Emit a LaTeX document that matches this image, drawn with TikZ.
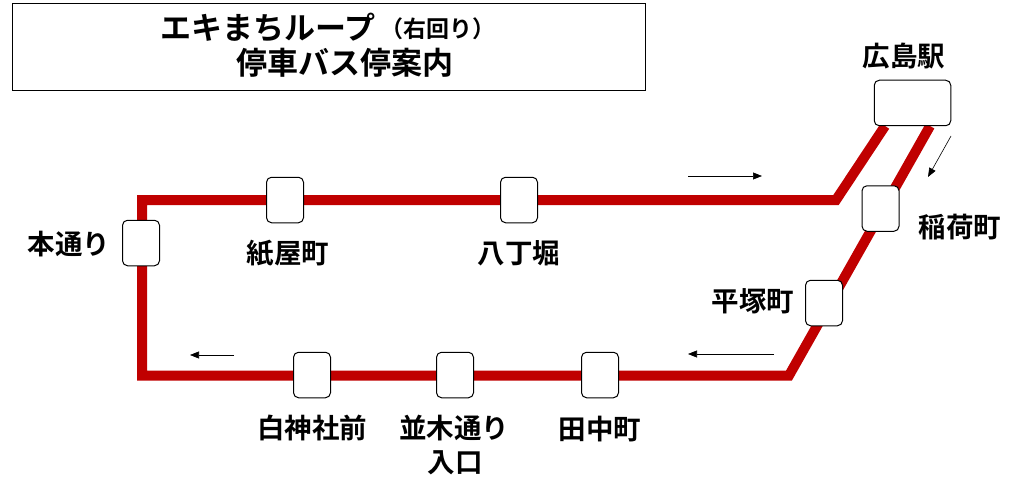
\documentclass[tikz,border=0pt]{standalone}
\usepackage{fontspec}
\setmainfont{Noto Sans CJK JP}[BoldFont={Noto Sans CJK JP Bold}]
\usetikzlibrary{backgrounds,arrows.meta}
\definecolor{linered}{HTML}{C00000}
\tikzset{
  x=1pt,y=-1pt,
  stop/.style={draw=black,line width=1pt,fill=white,rounded corners=5pt,minimum width=37pt,minimum height=45.5pt,inner sep=0pt},
  hub/.style={stop,minimum width=76.5pt},
  lbl/.style={inner sep=0pt,font=\fontsize{27.5}{27.5}\selectfont\bfseries},
  route/.style={draw=linered,line width=10pt,line join=miter,line cap=butt},
  dir/.style={draw=black,line width=0.6pt,-{Triangle[length=9pt,width=7pt]}},
}
\begin{document}
\begin{tikzpicture}
\useasboundingbox (0,0) rectangle (1024,497);
\node[draw=black,line width=1pt,minimum width=633pt,minimum height=87pt,inner sep=0pt] (titlebox) at (328.5,47.5) {};
\node[inner sep=0pt,anchor=west,font=\fontsize{31}{31}\selectfont\bfseries] (t1) at (160,28) {エキまちループ};
\node[inner sep=0pt,anchor=west,font=\fontsize{23}{23}\selectfont\bfseries] (t1b) at (380,29) {（右回り）};
\node[inner sep=0pt,anchor=west,font=\fontsize{31}{31}\selectfont\bfseries] (t2) at (236,63) {停車バス停案内};

\node[hub] (hiroshima) at (912.5,103) {};
\node[stop] (inari) at (880.5,208.5) {};
\node[stop] (hiratsuka) at (824,303) {};
\node[stop] (tanaka) at (600,375) {};
\node[stop] (namiki) at (455,375) {};
\node[stop] (hakushin) at (312,375) {};
\node[stop] (hondori) at (141,243) {};
\node[stop] (kamiya) at (285,200) {};
\node[stop] (hatcho) at (519,200) {};

\coordinate (tl) at (142,200);
\coordinate (bl) at (142,375.5);
\coordinate (tr) at (836,200);
\coordinate (br) at (789,375.5);
\coordinate (hubin) at (885,126);
\coordinate (hubout) at (930,126);

\begin{scope}[on background layer]
\draw[route] (hubout) -- (br) -- (bl) -- (tl) -- (tr) -- (hubin);
\end{scope}

\node[lbl] (lhiroshima) at (904,56) {広島駅};
\node[lbl] (linari) at (960,227) {稲荷町};
\node[lbl] (lhiratsuka) at (753,301) {平塚町};
\node[lbl] (ltanaka) at (600,429) {田中町};
\node[lbl] (lnamiki) at (454,428) {並木通り};
\node[lbl] (lnamiki2) at (455,463) {入口};
\node[lbl] (lhakushin) at (312,428) {白神社前};
\node[lbl] (lhondori) at (69,244) {本通り};
\node[lbl] (lkamiya) at (288,253) {紙屋町};
\node[lbl] (lhatcho) at (519,253) {八丁堀};

\coordinate (a1s) at (688,176); \coordinate (a1e) at (762,176);
\coordinate (a2s) at (951,136); \coordinate (a2e) at (928,177);
\coordinate (a3s) at (774,354); \coordinate (a3e) at (688,354);
\coordinate (a4s) at (234,355); \coordinate (a4e) at (190,355);
\draw[dir] (a1s) -- (a1e);
\draw[dir] (a2s) -- (a2e);
\draw[dir] (a3s) -- (a3e);
\draw[dir] (a4s) -- (a4e);
\end{tikzpicture}
\end{document}
